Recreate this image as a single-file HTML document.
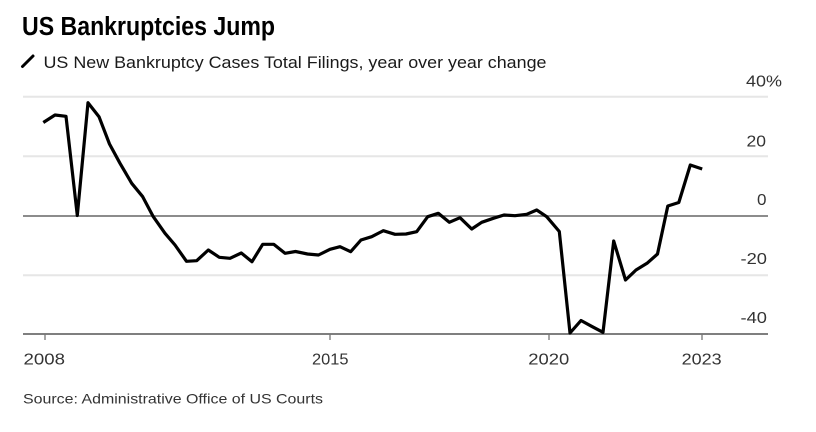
<!DOCTYPE html>
<html>
<head>
<meta charset="utf-8">
<style>
  html, body { margin: 0; padding: 0; background: #fff; }
  body { width: 816px; height: 432px; overflow: hidden; }
  svg { display: block; font-family: "Liberation Sans", Arial, sans-serif; }
</style>
</head>
<body>
<svg width="816" height="432" viewBox="0 0 816 432" xmlns="http://www.w3.org/2000/svg">
  <rect width="816" height="432" fill="#fff"/>
  <!-- Title -->
  <text x="22" y="35" font-size="25.5" font-weight="bold" fill="#000" textLength="253" lengthAdjust="spacingAndGlyphs">US Bankruptcies Jump</text>
  <!-- Subtitle icon -->
  <line x1="22.5" y1="66.5" x2="33" y2="56" stroke="#000" stroke-width="3" stroke-linecap="round"/>
  <text x="43.5" y="68" font-size="16.3" fill="#1a1a1a" textLength="503" lengthAdjust="spacingAndGlyphs">US New Bankruptcy Cases Total Filings, year over year change</text>

  <!-- Gridlines -->
  <g stroke="#e6e6e6" stroke-width="2">
    <line x1="23" y1="96.7" x2="768" y2="96.7"/>
    <line x1="23" y1="156.3" x2="768" y2="156.3"/>
    <line x1="23" y1="275.3" x2="768" y2="275.3"/>
  </g>
  <!-- Zero line -->
  <line x1="23" y1="216" x2="768" y2="216" stroke="#666" stroke-width="1.5"/>
  <!-- X axis -->
  <line x1="23" y1="334" x2="768" y2="334" stroke="#555" stroke-width="1.6"/>
  <g stroke="#777" stroke-width="1.3">
    <line x1="45" y1="334" x2="45" y2="340"/>
    <line x1="330" y1="334" x2="330" y2="340"/>
    <line x1="549" y1="334" x2="549" y2="340"/>
    <line x1="702" y1="334" x2="702" y2="340"/>
  </g>

  <!-- Y labels -->
  <g font-size="16" fill="#333">
    <text x="746" y="86.7" textLength="36" lengthAdjust="spacingAndGlyphs">40%</text>
    <text x="746.5" y="146.7" textLength="19.5" lengthAdjust="spacingAndGlyphs">20</text>
    <text x="757" y="205" textLength="9.5" lengthAdjust="spacingAndGlyphs">0</text>
    <text x="740.5" y="264.2" textLength="26.5" lengthAdjust="spacingAndGlyphs">-20</text>
    <text x="740.5" y="323.2" textLength="26.5" lengthAdjust="spacingAndGlyphs">-40</text>
  </g>

  <!-- X labels -->
  <g font-size="16" fill="#333">
    <text x="23.5" y="364.3" textLength="41.5" lengthAdjust="spacingAndGlyphs">2008</text>
    <text x="312" y="364.3" textLength="36.5" lengthAdjust="spacingAndGlyphs">2015</text>
    <text x="528.3" y="364.3" textLength="41" lengthAdjust="spacingAndGlyphs">2020</text>
    <text x="681.7" y="364.3" textLength="40" lengthAdjust="spacingAndGlyphs">2023</text>
  </g>

  <!-- Data line -->
  <polyline fill="none" stroke="#000" stroke-width="3.2" stroke-linejoin="round" stroke-linecap="butt"
    points="43.3,122.5 55,115 66,116.3 77.3,215.5 88,102.7 99,116.7 109.5,144 120,163.3 131.7,183.3 142.7,196.7 153.3,216.7 165,233.3 175,245 186.5,261.3 196.7,260.7 208.3,250 219.3,257.3 230,258.3 241.3,253 252,261.7 262.7,244.3 273.7,244.3 285,253.3 295.5,251.5 307.5,254 318.5,255 330,249.3 340,246.7 350.7,251.7 361,240 371.7,236.7 383.3,230.7 395,234.3 406,234 416.7,231.7 427.7,216.7 438.3,213.3 449.3,222.3 460,217.7 471.7,229 481.7,222.3 493.3,218.3 504,215 515,215.7 526.7,214.3 536.7,210 546.7,216.7 559.3,231.5 570,333 581,320.5 592.3,326.7 603,332.3 613.7,241 625.5,280 636,270 647,263.3 657.5,254 667.8,206 678.8,202.5 690.3,165 702.2,169"/>

  <!-- Source -->
  <text x="23" y="403.3" font-size="14" fill="#333" textLength="300" lengthAdjust="spacingAndGlyphs">Source: Administrative Office of US Courts</text>
</svg>
</body>
</html>
